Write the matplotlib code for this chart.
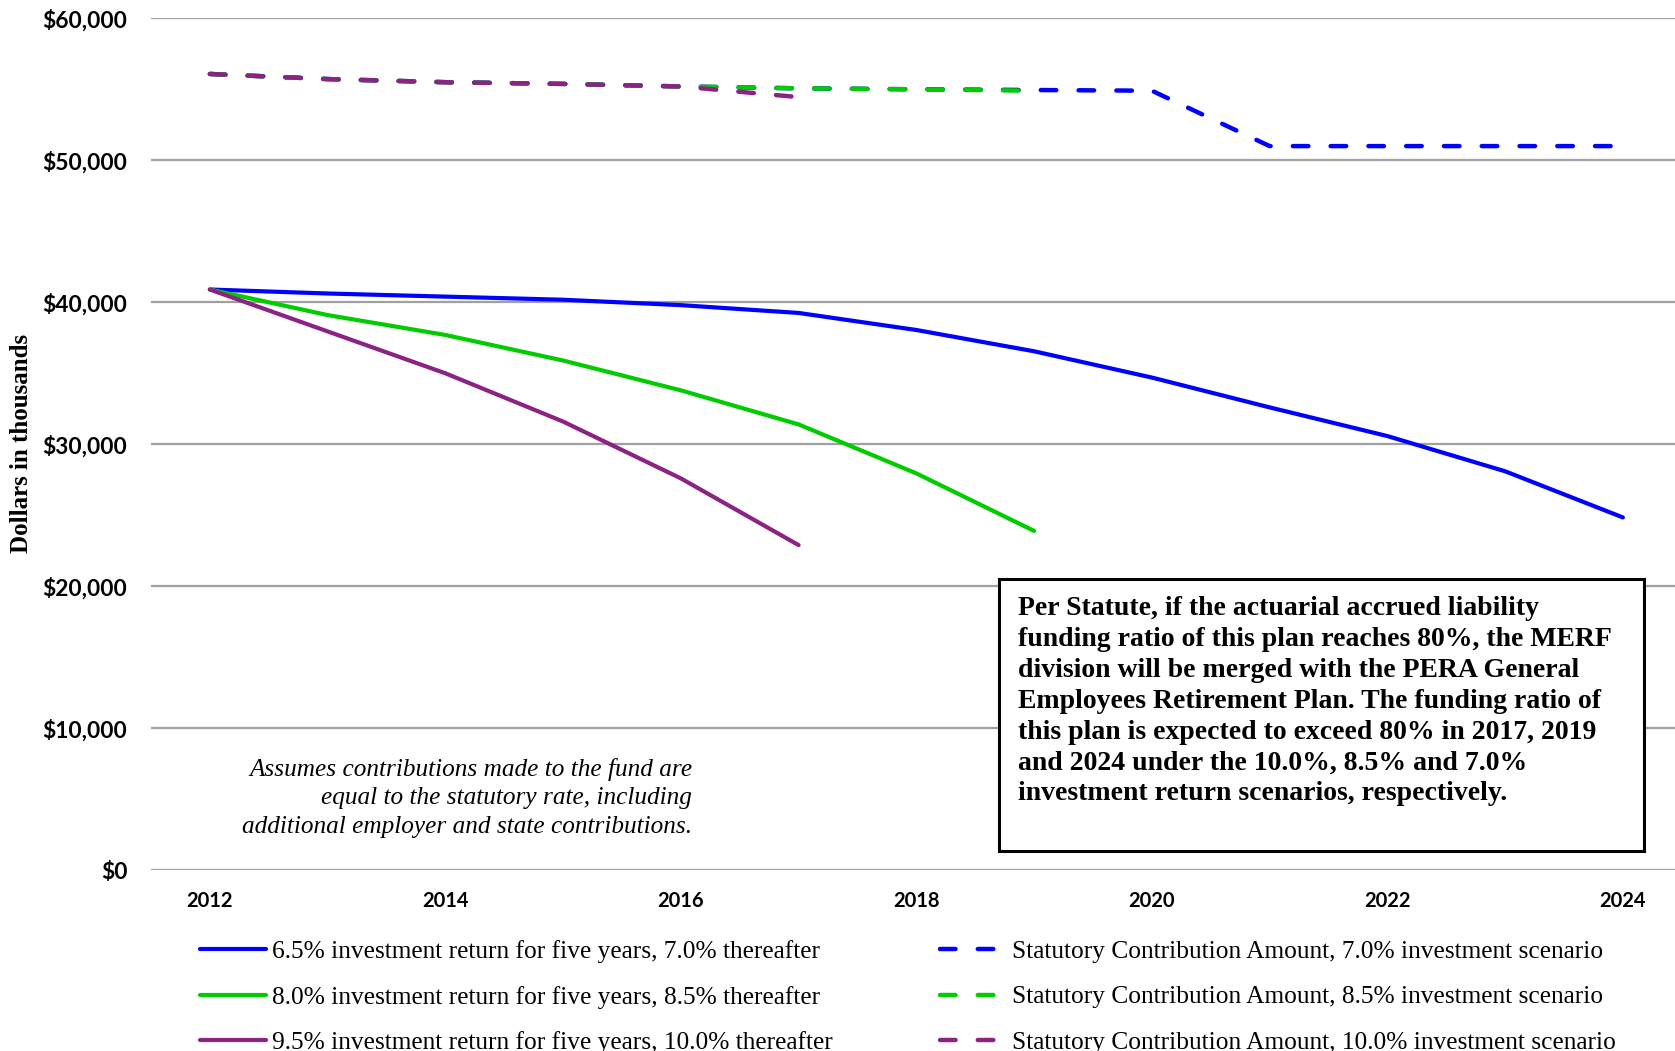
import matplotlib
matplotlib.use("Agg")
import matplotlib.pyplot as plt
from matplotlib.patches import Rectangle
from matplotlib.ticker import FuncFormatter

# ── Data (dollars in thousands) ───────────────────────────────────────────────
years = list(range(2012, 2025))

ret_70 = [40900, 40620, 40400, 40180, 39800, 39250, 38050, 36550, 34700,
          32600, 30580, 28100, 24850]
ret_85 = [40900, 39100, 37700, 35900, 33800, 31400, 27950, 23900]
ret_100 = [40900, 37950, 35000, 31600, 27600, 22900]

stat_70 = [56080, 55720, 55500, 55380, 55200, 55070, 55000, 54950, 54900,
           51000, 51000, 51000, 51000]
stat_85 = [56080, 55720, 55500, 55380, 55200, 55070, 55000, 54900]
stat_100 = [56080, 55720, 55500, 55380, 55200, 54450]

labels_solid = [
    "6.5% investment return for five years, 7.0% thereafter",
    "8.0% investment return for five years, 8.5% thereafter",
    "9.5% investment return for five years, 10.0% thereafter",
]
labels_dash = [
    "Statutory Contribution Amount, 7.0% investment scenario",
    "Statutory Contribution Amount, 8.5% investment scenario",
    "Statutory Contribution Amount, 10.0% investment scenario",
]

BLUE = "#0000ff"
GREEN = "#00cc00"
PURPLE = "#8b2384"
GRID = "#a0a0a0"

W, H = 1675, 1051
fig = plt.figure(figsize=(W / 100, H / 100), dpi=100)
ax = fig.add_axes([151 / W, 1 - 870.3 / H, (W - 151) / W, (870.3 - 18.3) / H])

# ── Lines ─────────────────────────────────────────────────────────────────────
solid = [(ret_70, BLUE), (ret_85, GREEN), (ret_100, PURPLE)]
dashed = [(stat_70, BLUE), (stat_85, GREEN), (stat_100, PURPLE)]

handles = []
for (vals, col), lab in zip(solid, labels_solid):
    h, = ax.plot(years[:len(vals)], vals, color=col, lw=3.0,
                 solid_capstyle="round", solid_joinstyle="round", label=lab, zorder=3)
    handles.append(h)
for (vals, col), lab in zip(dashed, labels_dash):
    h, = ax.plot(years[:len(vals)], vals, color=col, lw=3.2, dashes=(3.5, 5),
                 dash_capstyle="round", label=lab, zorder=3)
    handles.append(h)

# ── Axes styling ──────────────────────────────────────────────────────────────
ax.set_xlim(2011.5, 2011.5 + (W - 151) / 117.75)
ax.set_ylim(0, 60000)
ax.set_yticks(range(0, 60001, 10000))
ax.set_xticks(range(2012, 2025, 2))
ax.yaxis.set_major_formatter(FuncFormatter(lambda v, p: f"${v:,.0f}"))
ax.grid(axis="y", color=GRID, lw=1.6, zorder=0)
for s in ax.spines.values():
    s.set_visible(False)
ax.tick_params(axis="both", length=0)
ax.tick_params(axis="y", pad=17)
ax.tick_params(axis="x", pad=15)
for t in ax.get_yticklabels():
    t.set_fontfamily("Lato")
    t.set_fontweight("bold")
    t.set_fontsize(16.4)
for t in ax.get_xticklabels():
    t.set_fontfamily("Lato")
    t.set_fontweight("bold")
    t.set_fontsize(14.5)

fig.text(22 / W, 1 - 443 / H, "Dollars in thousands", rotation=90,
         ha="center", va="center", fontsize=18, fontweight="bold",
         fontfamily="Liberation Serif")

# italic note
fig.text(692 / W, 1 - 758 / H,
         "Assumes contributions made to the fund are\n"
         "equal to the statutory rate, including\n"
         "additional employer and state contributions.",
         ha="right", va="top", fontsize=18.2, style="italic",
         fontfamily="Liberation Serif", linespacing=1.38)

# statute box
fig.patches.append(Rectangle((999 / W, 1 - 851 / H), 645 / W, 272 / H,
                             transform=fig.transFigure, facecolor="white",
                             edgecolor="black", lw=2.2, zorder=5))
fig.text(1018 / W, 1 - 596 / H,
         "Per Statute, if the actuarial accrued liability\n"
         "funding ratio of this plan reaches 80%, the MERF\n"
         "division will be merged with the PERA General\n"
         "Employees Retirement Plan. The funding ratio of\n"
         "this plan is expected to exceed 80% in 2017, 2019\n"
         "and 2024 under the 10.0%, 8.5% and 7.0%\n"
         "investment return scenarios, respectively.",
         ha="left", va="top", fontsize=20, fontweight="bold",
         fontfamily="Liberation Serif", linespacing=1.31, zorder=6)

# ── Legend ────────────────────────────────────────────────────────────────────
leg = fig.legend(handles=handles, ncol=2, loc="upper left",
                 bbox_to_anchor=(200 / W, 1 - 940 / H), frameon=False,
                 borderaxespad=0, borderpad=0, handlelength=2.6,
                 handletextpad=0.25, columnspacing=4.2, labelspacing=0.89,
                 prop={"family": "Liberation Serif", "size": 18.3})

fig.savefig("out.png", dpi=100)
